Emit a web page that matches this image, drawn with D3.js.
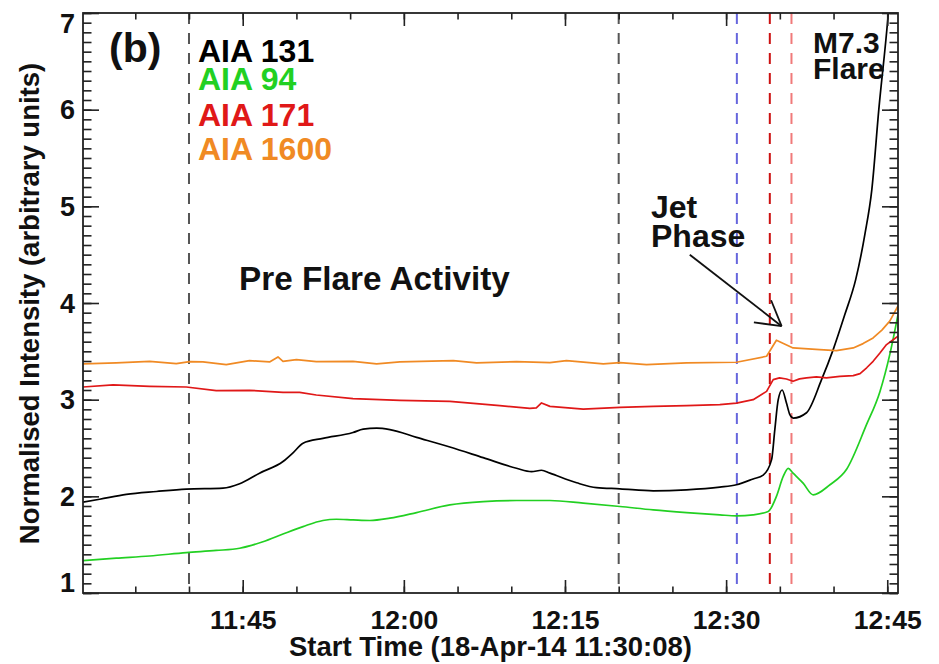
<!DOCTYPE html>
<html>
<head>
<meta charset="utf-8">
<script src="https://cdn.jsdelivr.net/npm/d3@7"></script>
<style>
  html, body { margin: 0; padding: 0; background: #fff; }
  svg { display: block; font-family: "Liberation Sans", Arial, Helvetica, sans-serif; font-weight: bold; }
</style>
</head>
<body>
<svg id="chart" width="939" height="664"></svg>
<script>
// AIA light curves of the pre-flare / jet interval, 18-Apr-2014 (UT)
const aia131 = [
  ["11:30:08",1.94],["11:31:41",1.97],["11:34:10",2.02],["11:36:58",2.05],["11:39:45",2.075],
  ["11:43:10",2.085],["11:44:43",2.13],["11:46:34",2.24],["11:48:45",2.36],["11:49:41",2.45],
  ["11:50:37",2.55],["11:52:28",2.60],["11:55:16",2.66],["11:56:13",2.695],["11:57:28",2.705],
  ["11:58:42",2.69],["12:01:11",2.61],["12:04:17",2.51],["12:07:23",2.40],["12:10:29",2.29],
  ["12:11:53",2.255],["12:12:49",2.27],["12:13:36",2.24],["12:16:05",2.14],["12:17:56",2.09],
  ["12:20:07",2.078],["12:23:13",2.057],["12:26:19",2.067],["12:29:25",2.095],["12:30:58",2.12],
  ["12:32:31",2.18],["12:33:27",2.22],["12:34:14",2.38],["12:34:32",2.69],["12:34:51",3.00],
  ["12:35:13",3.10],["12:35:37",2.965],["12:35:56",2.845],["12:36:15",2.81],["12:37:29",2.865],
  ["12:38:53",3.207],["12:39:58",3.518],["12:41:03",3.88],["12:42:04",4.244],["12:42:55",4.71],
  ["12:43:34",5.176],["12:44:13",6.005],["12:45:03",6.938],["12:45:25",7.46]
];
const aia94 = [
  ["11:30:08",1.335],["11:33:14",1.36],["11:36:20",1.383],["11:39:45",1.418],["11:42:32",1.44],
  ["11:44:43",1.463],["11:46:53",1.53],["11:48:45",1.61],["11:50:37",1.687],["11:52:28",1.75],
  ["11:53:43",1.763],["11:55:16",1.756],["11:56:50",1.75],["11:58:42",1.774],["12:01:11",1.832],
  ["12:04:17",1.912],["12:07:23",1.946],["12:10:29",1.957],["12:13:36",1.957],["12:16:42",1.93],
  ["12:20:07",1.895],["12:23:13",1.86],["12:26:19",1.832],["12:29:25",1.808],["12:30:58",1.798],
  ["12:32:31",1.808],["12:33:55",1.843],["12:34:41",2.00],["12:35:19",2.206],["12:35:47",2.29],
  ["12:36:14",2.24],["12:37:10",2.136],["12:38:06",2.016],["12:39:40",2.12],["12:41:13",2.28],
  ["12:43:04",2.741],["12:44:19",3.083],["12:45:14",3.466],["12:46:00",3.88]
];
const aia171 = [
  ["11:30:08",3.131],["11:32:56",3.152],["11:36:20",3.138],["11:39:45",3.131],["11:42:32",3.093],
  ["11:45:38",3.097],["11:48:45",3.076],["11:50:18",3.076],["11:51:51",3.048],["11:55:16",3.01],
  ["11:59:38",2.993],["12:04:17",2.983],["12:08:56",2.938],["12:11:44",2.91],["12:12:20",2.915],
  ["12:12:49",2.966],["12:13:36",2.931],["12:16:42",2.903],["12:20:07",2.921],["12:23:13",2.931],
  ["12:26:19",2.938],["12:29:25",2.948],["12:30:58",2.965],["12:32:31",3.00],["12:33:46",3.086],
  ["12:34:23",3.207],["12:34:58",3.225],["12:35:37",3.214],["12:36:14",3.19],["12:36:50",3.215],
  ["12:37:29",3.225],["12:38:24",3.235],["12:39:20",3.225],["12:40:35",3.24],["12:41:50",3.249],
  ["12:42:28",3.27],["12:43:05",3.33],["12:43:41",3.397],["12:44:18",3.48],["12:44:56",3.57],
  ["12:45:33",3.62],["12:46:00",3.656]
];
const aia1600 = [
  ["11:30:08",3.37],["11:33:14",3.38],["11:36:20",3.397],["11:38:49",3.373],["11:40:04",3.393],
  ["11:41:18",3.39],["11:43:28",3.363],["11:45:38",3.404],["11:47:30",3.39],["11:48:17",3.442],
  ["11:48:45",3.397],["11:50:00",3.415],["11:51:51",3.393],["11:55:16",3.397],["11:57:28",3.37],
  ["11:59:38",3.39],["12:04:36",3.404],["12:06:46",3.38],["12:10:29",3.393],["12:13:36",3.383],
  ["12:15:08",3.404],["12:18:34",3.37],["12:20:07",3.383],["12:22:35",3.363],["12:26:19",3.38],
  ["12:30:58",3.387],["12:33:46",3.449],["12:34:41",3.615],["12:36:14",3.535],["12:38:43",3.518],
  ["12:40:16",3.508],["12:41:50",3.535],["12:42:45",3.58],["12:43:41",3.639],["12:44:30",3.72],
  ["12:45:14",3.812],["12:46:00",3.97]
];

const seriesNames  = ["AIA 131", "AIA 94", "AIA 171", "AIA 1600"];
const seriesColors = ["#000000", "#22d022", "#e01818", "#f08a24"];
const seriesData   = [aia131, aia94, aia171, aia1600];

// Event markers (vertical dashed lines)
const markerTimes  = ["11:40:00", "12:20:00", "12:31:00", "12:34:04", "12:36:05"];
const markerColors = ["#555555", "#555555", "#6666dd", "#cc1010", "#f07a7a"];

const timeStart = "11:30:08", timeEnd = "12:46:00";
const xMajorTicks = ["11:45", "12:00", "12:15", "12:30", "12:45"];
const yMajorTicks = [1, 2, 3, 4, 5, 6, 7];

// helpers ---------------------------------------------------------------
const toMin = s => { const p = s.split(":").map(Number); return p[0] * 60 + p[1] + (p[2] || 0) / 60; };
const fmtMin = m => { const h = Math.floor(m / 60), mm = Math.round(m - h * 60); return h + ":" + String(mm).padStart(2, "0"); };

const svg = d3.select("#chart");
const L = 83, R = 898, T = 13, B = 593;

const x = d3.scaleLinear().domain([toMin(timeStart), toMin(timeEnd)]).range([L, R]);
const y = d3.scaleLinear().domain([1, 7]).range([B, T]);

svg.append("rect").attr("width", 939).attr("height", 664).attr("fill", "#fff");

svg.append("defs").append("clipPath").attr("id", "plotClip")
  .append("rect").attr("x", L).attr("y", T).attr("width", R - L).attr("height", B - T);

// vertical dashed markers
svg.append("g").selectAll("line").data(markerTimes).join("line")
  .attr("x1", d => x(toMin(d))).attr("x2", d => x(toMin(d)))
  .attr("y1", T).attr("y2", B)
  .attr("stroke", (d, i) => markerColors[i])
  .attr("stroke-width", 2)
  .attr("stroke-dasharray", "11,9");

// light curves
const line = d3.line()
  .x(d => x(toMin(d[0])))
  .y(d => y(d[1]));

const curves = svg.append("g").attr("clip-path", "url(#plotClip)");
seriesData.forEach((data, i) => {
  const smooth = i < 2;
  curves.append("path")
    .datum(data)
    .attr("fill", "none")
    .attr("stroke", seriesColors[i])
    .attr("stroke-width", 1.7)
    .attr("stroke-linejoin", "round")
    .attr("d", line.curve(smooth ? d3.curveMonotoneX : d3.curveLinear));
});

// axes ------------------------------------------------------------------
const xMinor = d3.range(toMin("11:35"), toMin("12:45") + 0.01, 5);
const xMajor = xMajorTicks.map(toMin);
const yMinor = d3.range(10, 71).map(v => v / 10);

function strip(g) { g.select(".domain").remove(); g.selectAll("line").attr("stroke", "#222").attr("stroke-width", 1.6); }

// bottom
svg.append("g").attr("transform", `translate(0,${B})`)
  .call(d3.axisBottom(x).tickValues(xMinor).tickSizeInner(-6.5).tickSizeOuter(0).tickFormat(""))
  .call(strip);
svg.append("g").attr("transform", `translate(0,${B})`)
  .call(d3.axisBottom(x).tickValues(xMajor).tickSizeInner(-13).tickSizeOuter(0).tickPadding(17).tickFormat(fmtMin))
  .call(strip)
  .call(g => g.selectAll("text").attr("fill", "#111").style("font-size", "26.5px").style("font-family", null));
// top
svg.append("g").attr("transform", `translate(0,${T})`)
  .call(d3.axisTop(x).tickValues(xMinor).tickSizeInner(-6.5).tickSizeOuter(0).tickFormat(""))
  .call(strip);
svg.append("g").attr("transform", `translate(0,${T})`)
  .call(d3.axisTop(x).tickValues(xMajor).tickSizeInner(-13).tickSizeOuter(0).tickFormat(""))
  .call(strip);
// left
svg.append("g").attr("transform", `translate(${L},0)`)
  .call(d3.axisLeft(y).tickValues(yMinor).tickSizeInner(-8.5).tickSizeOuter(0).tickFormat(""))
  .call(strip);
svg.append("g").attr("transform", `translate(${L},0)`)
  .call(d3.axisLeft(y).tickValues(yMajorTicks).tickSizeInner(-16).tickSizeOuter(0).tickPadding(8).tickFormat(d3.format("d")))
  .call(strip)
  .call(g => g.selectAll("text").attr("fill", "#111").style("font-size", "27px").style("font-family", null)
    .attr("dy", d => d === 7 ? "0.72em" : d === 1 ? "-0.05em" : "0.34em"));
// right
svg.append("g").attr("transform", `translate(${R},0)`)
  .call(d3.axisRight(y).tickValues(yMinor).tickSizeInner(-8.5).tickSizeOuter(0).tickFormat(""))
  .call(strip);
svg.append("g").attr("transform", `translate(${R},0)`)
  .call(d3.axisRight(y).tickValues(yMajorTicks).tickSizeInner(-16).tickSizeOuter(0).tickFormat(""))
  .call(strip);

// frame
svg.append("rect").attr("x", L).attr("y", T).attr("width", R - L).attr("height", B - T)
  .attr("fill", "none").attr("stroke", "#222").attr("stroke-width", 1.8);

// axis titles
svg.append("text").attr("x", (L + R) / 2).attr("y", 656).attr("text-anchor", "middle")
  .style("font-size", "27.5px").attr("fill", "#111").text("Start Time (18-Apr-14 11:30:08)");
svg.append("text").attr("transform", "translate(39,303.5) rotate(-90)").attr("text-anchor", "middle")
  .style("font-size", "27.5px").attr("fill", "#111").text("Normalised Intensity (arbitrary units)");

// panel tag and legend
svg.append("text").attr("x", 109).attr("y", 62).style("font-size", "41px").attr("fill", "#111").text("(b)");
const legendBase = [62, 90, 126, 160];
seriesNames.forEach((n, i) => {
  svg.append("text").attr("x", 198).attr("y", legendBase[i])
    .style("font-size", "32px").attr("fill", seriesColors[i]).text(n);
});

// annotations
svg.append("text").attr("x", 239).attr("y", 290).style("font-size", "33.3px").attr("fill", "#111").text("Pre Flare Activity");
svg.append("text").attr("x", 651).attr("y", 218).style("font-size", "32px").attr("fill", "#111").text("Jet");
svg.append("text").attr("x", 651).attr("y", 246.5).style("font-size", "32px").attr("fill", "#111").text("Phase");
svg.append("text").attr("x", 813).attr("y", 53).style("font-size", "30px").attr("fill", "#111").text("M7.3");
svg.append("text").attr("x", 813).attr("y", 78.5).style("font-size", "30px").attr("fill", "#111").text("Flare");

// arrow pointing at the jet signature
const tail = [x(toMin("12:26:37")), y(4.50)];
const tip  = [x(toMin("12:35:10")), y(3.76)];
const ang = Math.atan2(tip[1] - tail[1], tip[0] - tail[0]);
const barb = 28, spread = Math.PI / 6;
const arrow = svg.append("g").attr("stroke", "#111").attr("stroke-width", 1.8).attr("fill", "none");
arrow.append("line").attr("x1", tail[0]).attr("y1", tail[1]).attr("x2", tip[0]).attr("y2", tip[1]);
[-spread, spread].forEach(s => {
  arrow.append("line").attr("x1", tip[0]).attr("y1", tip[1])
    .attr("x2", tip[0] - barb * Math.cos(ang + s)).attr("y2", tip[1] - barb * Math.sin(ang + s));
});
</script>
</body>
</html>
